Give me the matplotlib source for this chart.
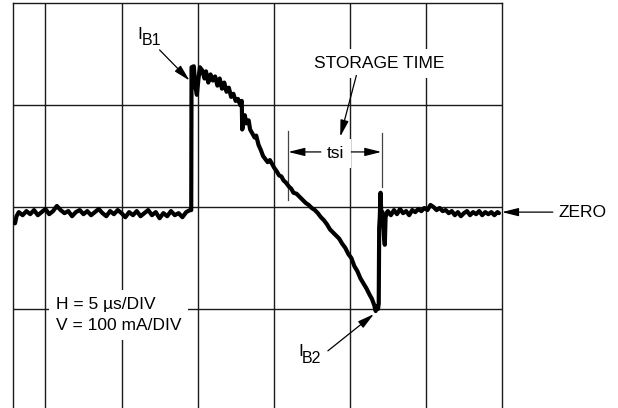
import numpy as np
import matplotlib.pyplot as plt

plt.rcParams['font.family'] = ['Liberation Sans', 'DejaVu Sans']

# base current trace: time in us, current in mA
t_before = [-2.0, -1.9, -1.75, -1.5, -1.25, -1.0, -0.75, -0.5, -0.25, 0.0,
            0.25, 0.5, 0.75, 1.0, 1.25, 1.5, 1.75, 2.0, 2.25, 2.5,
            2.75, 3.0, 3.25, 3.5, 3.75, 4.0, 4.25, 4.5, 4.75, 5.0,
            5.25, 5.5, 5.75, 6.0, 6.25, 6.5, 6.75, 7.0, 7.25, 7.5,
            7.75, 8.0, 8.25, 8.5, 8.75, 9.0, 9.25, 9.5]
i_before = [-16, -9, -5, -8, -4, -7, -3, -8, -5, -2,
            -7, -4, 1, -3, -6, -4, -9, -5, -3, -7,
            -4, -8, -5, -2, -6, -9, -4, -7, -3, -6,
            -10, -5, -8, -4, -9, -6, -3, -8, -5, -11,
            -6, -9, -4, -8, -6, -10, -5, -3]

t_pulse = [9.58, 9.60, 9.75, 9.85, 9.95, 10.05, 10.15, 10.3, 10.45, 10.55,
           10.7, 10.85, 11.0, 11.15, 11.3, 11.45, 11.6, 11.75, 11.9, 12.05,
           12.2, 12.35, 12.5, 12.65, 12.8, 12.9, 12.93, 13.0, 13.1, 13.2,
           13.35, 13.45, 13.6, 13.75, 13.85, 14.0, 14.15, 14.3, 14.45, 14.6,
           14.75, 14.9, 15.05, 15.2, 15.35, 15.5, 15.65, 15.8, 16.0, 16.15,
           16.3, 16.5, 16.7, 16.9, 17.1, 17.3, 17.5, 17.7, 17.9, 18.1,
           18.3, 18.5, 18.7, 18.9, 19.1, 19.3, 19.5, 19.7, 19.9, 20.1,
           20.3, 20.5, 20.7, 20.9, 21.1, 21.3, 21.45, 21.6, 21.7, 21.78,
           21.85, 21.9, 21.93, 21.97, 22.02, 22.07, 22.15, 22.25, 22.3, 22.35]
i_pulse = [-3, 137, 138, 118, 110, 125, 137, 134, 126, 133,
           122, 130, 124, 128, 119, 126, 116, 122, 113, 117,
           108, 111, 104, 106, 100, 104, 76, 82, 90, 82,
           85, 76, 72, 68, 70, 61, 56, 50, 47, 44,
           46, 42, 38, 35, 31, 30, 26, 24, 20, 18,
           14, 13, 10, 7, 4, 2, -1, -3, -6, -10,
           -13, -17, -22, -25, -28, -31, -36, -40, -46, -50,
           -58, -63, -70, -75, -80, -86, -90, -96, -102, -97,
           -100, -95, -20, -10, 14, -8, -5, -30, -37, -10]

t_after = [22.45, 22.5, 22.7, 22.9, 23.1, 23.3, 23.5, 23.7, 23.9, 24.1,
           24.3, 24.5, 24.7, 24.9, 25.1, 25.3, 25.5, 25.7, 25.9, 26.1,
           26.3, 26.5, 26.7, 26.9, 27.1, 27.3, 27.5, 27.7, 27.9, 28.1,
           28.3, 28.5, 28.7, 28.9, 29.1, 29.3, 29.5, 29.7, 29.8]
i_after = [-5, -4, -8, -3, -7, -2, -6, -4, -8, -3,
           -5, -2, -4, -1, -3, 2, 0, -3, -1, -4,
           -3, -6, -4, -8, -5, -9, -6, -4, -8, -5,
           -7, -4, -8, -5, -7, -5, -8, -5, -6]

# scope graticule: 5 us/div, 100 mA/div
grid_t = [0, 5, 10, 15, 20, 25]
grid_i = [-100, 0, 100]

# storage time markers
tsi_start = 15.96
tsi_end = 22.12

t = np.array(t_before + t_pulse + t_after)
i = np.array(i_before + i_pulse + i_after)

fig = plt.figure(figsize=(6.18, 4.08), dpi=100)
ax = fig.add_axes([0.0218, -0.0074, 0.7905, 1.0])
ax.set_xlim(-2.1, 30)
ax.set_ylim(-200, 200)
ax.set_xticks([])
ax.set_yticks([])
for side in ['left', 'right', 'top']:
    ax.spines[side].set_color('#1a1a1a')
    ax.spines[side].set_linewidth(1.0)
ax.spines['bottom'].set_visible(False)

for x in grid_t:
    ax.axvline(x, color='#1a1a1a', lw=1.0, zorder=1)
for y in grid_i:
    ax.axhline(y, color='#1a1a1a', lw=1.0, zorder=1)

ax.plot(t, i, color='black', lw=3.0, solid_joinstyle='round', solid_capstyle='round', zorder=4)

fs = 12.5
head = dict(arrowstyle='-|>,head_length=1.0,head_width=0.25', color='black',
            lw=0.9, shrinkA=0, shrinkB=0, mutation_scale=10)

# tsi markers and arrows
ax.plot([tsi_start, tsi_start], [75, 7], color='#444444', lw=0.9, zorder=2)
ax.plot([tsi_end, tsi_end], [73, 20], color='#444444', lw=0.9, zorder=2)
ax.text(19.04, 48, 'tsi', ha='center', va='baseline', fontsize=fs, zorder=3,
        bbox=dict(fc='white', ec='none', pad=5))
ax.annotate('', xy=(tsi_start, 54), xytext=(18.1, 54), arrowprops=head, zorder=5)
ax.annotate('', xy=(tsi_end - 0.05, 54), xytext=(20.1, 54), arrowprops=head, zorder=5)

ax.text(21.9, 136, 'STORAGE TIME', ha='center', va='baseline', fontsize=fs, zorder=3,
        bbox=dict(fc='white', ec='none', pad=5))
ax.annotate('', xy=(19.37, 69), xytext=(20.43, 129), arrowprops=head, zorder=5)

# IB1 / IB2 labels
ax.text(6.01, 164.6, 'I', ha='left', va='baseline', fontsize=fs, zorder=3)
ax.text(6.34, 158.8, 'B1', ha='left', va='baseline', fontsize=fs - 1, zorder=3)
ax.annotate('', xy=(9.47, 124), xytext=(7.50, 154), arrowprops=head, zorder=5)

ax.text(16.59, -146, 'I', ha='left', va='baseline', fontsize=fs, zorder=3)
ax.text(16.85, -152.9, 'B2', ha='left', va='baseline', fontsize=fs - 1, zorder=3)
ax.annotate('', xy=(21.58, -105), xytext=(18.56, -141), arrowprops=head, zorder=5)

# zero reference
ax.annotate('', xy=(30.0, -5), xytext=(33.34, -5), arrowprops=head,
            annotation_clip=False, zorder=5)
ax.text(33.74, -5, 'ZERO', ha='left', va='center', fontsize=fs, clip_on=False)

ax.text(0.69, -105.8, 'H = 5 µs/DIV\nV = 100 mA/DIV', ha='left', va='center',
        fontsize=fs, linespacing=1.5, zorder=3,
        bbox=dict(fc='white', ec='none', pad=5))

fig.savefig('out.png', dpi=100)
